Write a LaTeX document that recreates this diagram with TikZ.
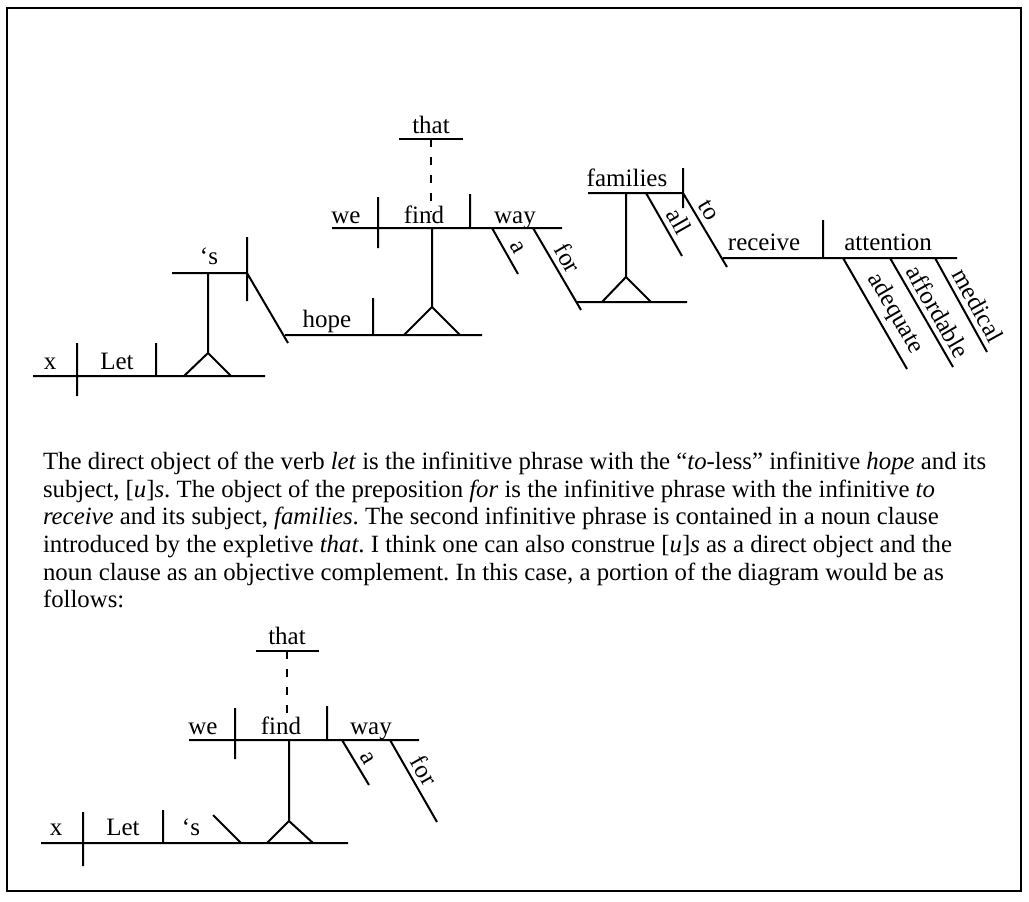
\documentclass[tikz,border=0pt]{standalone}
\usepackage{fontspec}
\setmainfont{Liberation Serif}
\tikzset{x=1pt, y=-1pt, node font=\fontsize{25}{29}\selectfont,
  word/.style={anchor=base, inner sep=0pt},
  slant/.style={sloped, above, pos=#1, inner sep=5pt}, slant/.default=0.55,
  expletive/.style={dash pattern=on 8pt off 10pt}}

\begin{document}
\begin{tikzpicture}[line width=2pt]
    \useasboundingbox (0,0) rectangle (1029,902);
    \draw (7,8) rectangle (1021,891);
    % full diagram
    \draw (33,376) -- (265,376)
      (77,343) -- (77,396)
      (156,343) -- (156,376)
      (184,376) -- (208,353) -- (231,376)
      (208,353) -- (208,273)
      (50,369) node [word] (x) {x}
      (117,369) node [word] (let) {Let};
    \draw (172,273) -- (247,273)
      (247,237) -- (247,301)
      (247,273) -- (288,343)
      (209,264) node [word] (s) {‘s};
    \draw (285,335) -- (482,335)
      (373,298) -- (373,335)
      (404,335) -- (432,307) -- (460,335)
      (432,307) -- (432,228)
      (327,327) node [word] (hope) {hope};
    \draw (332,228) -- (562,228)
      (378,197) -- (378,248)
      (470,194) -- (470,228)
      (346,223) node [word] (we) {we}
      (424,223) node [word] (find) {find}
      (515,223) node [word] (way) {way}
      (492,228) -- node [slant] (a) {a} (518,274)
      (533,228) -- node [slant=0.46] (for) {for} (581,310);
    \draw (399,139) -- (463,139)
      (431,133) node [word] (that) {that};
    \draw [expletive] (431,139) -- (431,212);
    \draw (576,302) -- (687,302)
      (602,302) -- (626,277) -- (651,302)
      (626,277) -- (626,193)
      (588,193) -- (683,193)
      (683,168) -- (683,208)
      (627,186) node [word] (families) {families}
      (646,193) -- node [slant=0.57] (all) {all} (682,256)
      (683,193) -- node [slant=0.33] (to) {to} (727,267);
    \draw (723,258) -- (957,258)
      (823,220) -- (823,258)
      (764,250) node [word] (receive) {receive}
      (888,250) node [word] (attention) {attention}
      (843,258) -- node [slant=0.58] (adequate) {adequate} (907,369)
      (890,258) -- node [slant=0.56] (affordable) {affordable} (953,367)
      (935,258) -- node [slant=0.58] (medical) {medical} (987,352);
    % comment
    \node [anchor=north west, inner sep=0pt, align=left,
      font=\fontsize{24.8}{27.7}\selectfont\frenchspacing] (note) at (42,451)
      {The direct object of the verb \textit{let} is the infinitive phrase with the “\textit{to}-less” infinitive \textit{hope} and its\\
       subject, [\textit{u}]\textit{s}. The object of the preposition \textit{for} is the infinitive phrase with the infinitive \textit{to}\\
       \textit{receive} and its subject, \textit{families}. The second infinitive phrase is contained in a noun clause\\
       introduced by the expletive \textit{that}. I think one can also construe [\textit{u}]\textit{s} as a direct object and the\\
       noun clause as an objective complement. In this case, a portion of the diagram would be as\\
       follows:};
    % partial diagram
    \draw (41,843) -- (348,843)
      (83,812) -- (83,866)
      (163,810) -- (163,843)
      (213,815) -- (241,843)
      (267,843) -- (289,821) -- (313,843)
      (289,821) -- (289,740)
      (56,835) node [word] (x2) {x}
      (123,835) node [word] (let2) {Let}
      (191,835) node [word] (s2) {‘s};
    \draw (189,740) -- (419,740)
      (235,708) -- (235,759)
      (327,706) -- (327,740)
      (203,734) node [word] (we2) {we}
      (281,734) node [word] (find2) {find}
      (371,734) node [word] (way2) {way}
      (342,740) -- node [slant] (a2) {a} (369,785)
      (390,740) -- node [slant=0.46] (for2) {for} (437,822);
    \draw (256,651) -- (319,651)
      (287,644) node [word] (that2) {that};
    \draw [expletive] (287,651) -- (287,717);
  \end{tikzpicture}
\end{document}
